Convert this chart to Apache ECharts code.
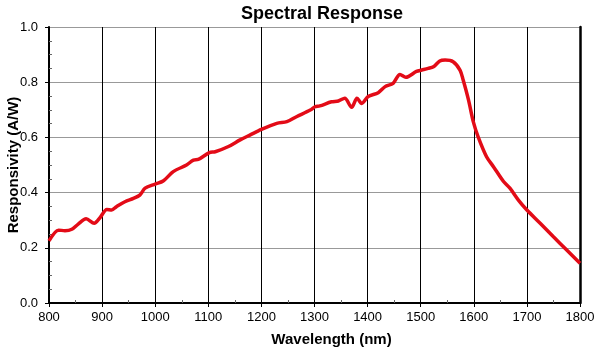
<!DOCTYPE html>
<html>
<head>
<meta charset="utf-8">
<script src="https://cdn.jsdelivr.net/npm/echarts@6/dist/echarts.min.js"></script>
<style>html,body{margin:0;padding:0;background:#fff}#c{width:600px;height:349px}</style>
</head>
<body>
<div id="c"></div>
<script>
const titleText = 'Spectral Response';
const xName = 'Wavelength (nm)';
const yName = 'Responsivity (A/W)';
const wavelengths = [800,818,830,843,855,870,885,896,909,918,927,943,959,971,981,1000,1015,1034,1059,1072,1081,1102,1113,1138,1160,1179,1200,1229,1248,1266,1292,1301,1310,1332,1345,1357,1370,1380,1389,1401,1420,1433,1448,1461,1472,1492,1502,1514,1524,1536,1546,1561,1574,1580,1590,1599,1608,1624,1637,1656,1668,1684,1700,1725,1750,1775,1800];
const responsivity = [0.225,0.264,0.262,0.267,0.286,0.305,0.289,0.309,0.339,0.337,0.349,0.367,0.379,0.391,0.416,0.431,0.442,0.476,0.500,0.518,0.520,0.545,0.548,0.567,0.591,0.609,0.629,0.651,0.657,0.675,0.699,0.711,0.714,0.729,0.732,0.742,0.709,0.742,0.723,0.748,0.762,0.784,0.796,0.828,0.818,0.839,0.844,0.850,0.856,0.877,0.880,0.874,0.844,0.808,0.736,0.657,0.603,0.530,0.494,0.440,0.416,0.373,0.337,0.289,0.240,0.192,0.144];
const xMin = 800, xMax = 1800, xStep = 100;
const yMin = 0, yMax = 1.0, yStep = 0.2;

const font = 'Arial, "Liberation Sans", sans-serif';
const chart = echarts.init(document.getElementById('c'), null, {renderer: 'canvas'});
const data = wavelengths.map((w, i) => [w, responsivity[i]]);
const base = {type: 'value', min: xMin, max: xMax, interval: xStep};
const ybase = {type: 'value', min: yMin, max: yMax, interval: yStep};
chart.setOption({
  animation: false,
  backgroundColor: '#fff',
  title: {
    text: titleText, left: 317, top: 0, textAlign: 'center',
    textStyle: {fontFamily: font, fontSize: 18, fontWeight: 'bold', color: '#000'}
  },
  grid: {left: 49, right: 20, top: 27, bottom: 46, containLabel: false, outerBoundsMode: 'none'},
  xAxis: [
    Object.assign({}, base, {
      position: 'bottom',
      axisLine: {show: true, lineStyle: {color: '#000', width: 2}},
      axisTick: {show: true, length: 4, lineStyle: {color: '#000', width: 1}},
      axisLabel: {color: '#000', fontSize: 13, fontFamily: font, margin: 8, formatter: v => String(v)},
      splitLine: {show: true, lineStyle: {color: '#000', width: 1}},
      name: xName, nameLocation: 'middle', nameGap: 29, nameMoveOverlap: false,
      nameTextStyle: {color: '#000', fontSize: 15, fontWeight: 'bold', fontFamily: font, padding: [0, 0, 0, 34]}
    }),
    Object.assign({}, base, {
      position: 'bottom',
      axisLine: {show: false},
      axisTick: {show: false, inside: true},
      minorTick: {show: true, splitNumber: 2, length: 3, lineStyle: {color: '#666', width: 1}},
      axisLabel: {show: false},
      splitLine: {show: false}
    }),
    Object.assign({}, base, {
      position: 'top',
      axisLine: {show: true, lineStyle: {color: '#000', width: 2}},
      axisTick: {show: false}, axisLabel: {show: false}, splitLine: {show: false}
    })
  ],
  yAxis: [
    Object.assign({}, ybase, {
      position: 'left',
      axisLine: {show: true, lineStyle: {color: '#000', width: 2}},
      axisTick: {show: true, length: 4, lineStyle: {color: '#000', width: 1}},
      axisLabel: {color: '#000', fontSize: 13, fontFamily: font, margin: 11, formatter: v => v.toFixed(1)},
      splitLine: {show: true, lineStyle: {color: '#999', width: 1}},
      name: yName, nameLocation: 'middle', nameGap: 28, nameRotate: 90, nameMoveOverlap: false,
      nameTextStyle: {color: '#000', fontSize: 15, fontWeight: 'bold', fontFamily: font}
    }),
    Object.assign({}, ybase, {
      position: 'left',
      axisLine: {show: false},
      axisTick: {show: false, inside: true},
      minorTick: {show: true, splitNumber: 4, length: 3, lineStyle: {color: '#666', width: 1}},
      axisLabel: {show: false},
      splitLine: {show: false}
    }),
    Object.assign({}, ybase, {
      position: 'right',
      axisLine: {show: true, lineStyle: {color: '#000', width: 2.5}},
      axisTick: {show: false}, axisLabel: {show: false}, splitLine: {show: false}
    })
  ],
  series: [{
    type: 'line',
    xAxisIndex: 0, yAxisIndex: 0,
    data: data,
    smooth: 0.3,
    showSymbol: false,
    lineStyle: {color: '#e30b17', width: 3.5},
    z: 5
  }]
});
</script>
</body>
</html>
